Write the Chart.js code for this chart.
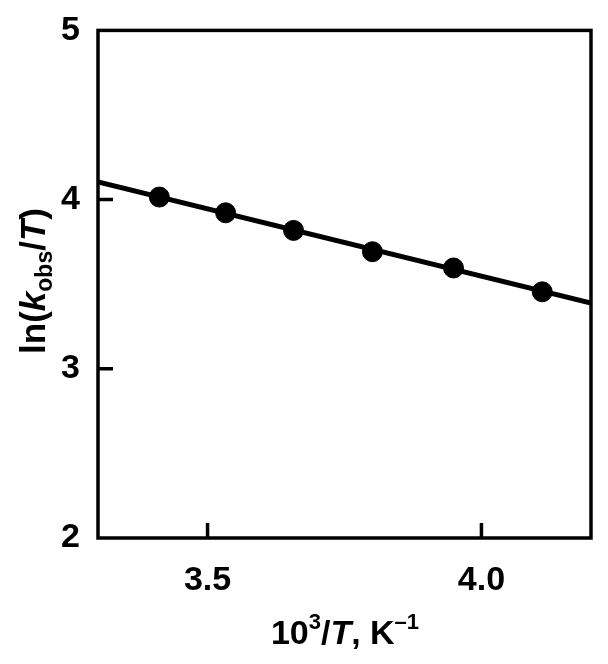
<!DOCTYPE html>
<html>
<head>
<meta charset="utf-8">
<script src="https://cdn.jsdelivr.net/npm/chart.js@4/dist/chart.umd.min.js"></script>
<style>
  html, body { margin: 0; padding: 0; background: #fff; }
  #wrap { width: 608px; height: 664px; }
</style>
</head>
<body>
<div id="wrap"><canvas id="chart"></canvas></div>
<script>
// measured points, 10^3/T vs ln(kobs/T)
const invT = [3.412, 3.533, 3.657, 3.801, 3.949, 4.111];
const lnK = [4.015, 3.922, 3.818, 3.692, 3.596, 3.455];
// fitted line ends
const fitX = [3.3, 4.2];
const fitY = [4.104, 3.388];
const xTicks = [3.5, 4.0];
const yTicks = [2, 3, 4, 5];

const FONT = "'Liberation Sans', Arial, Helvetica, sans-serif";

function drawParts(ctx, parts, cx, cy) {
  // parts: [text, size, italic, dy]
  let total = 0;
  parts.forEach(p => {
    ctx.font = (p[2] ? "italic " : "") + "bold " + p[1] + "px " + FONT;
    p.w = ctx.measureText(p[0]).width;
    total += p.w;
  });
  let x = cx - total / 2;
  parts.forEach(p => {
    ctx.font = (p[2] ? "italic " : "") + "bold " + p[1] + "px " + FONT;
    ctx.fillText(p[0], x, cy + p[3]);
    x += p.w;
  });
}

const frame = {
  id: "frame",
  afterDraw(chart) {
    const ctx = chart.ctx;
    const a = chart.chartArea;
    const xs = chart.scales.x, ys = chart.scales.y;
    ctx.save();
    ctx.strokeStyle = "#000";
    ctx.lineWidth = 3.5;
    ctx.strokeRect(a.left, a.top, a.right - a.left, a.bottom - a.top);
    // inward ticks
    ctx.beginPath();
    xTicks.forEach(v => {
      const px = xs.getPixelForValue(v);
      ctx.moveTo(px, a.bottom);
      ctx.lineTo(px, a.bottom - 15);
    });
    [3, 4].forEach(v => {
      const py = ys.getPixelForValue(v);
      ctx.moveTo(a.left, py);
      ctx.lineTo(a.left + 15, py);
    });
    ctx.stroke();

    ctx.fillStyle = "#000";
    ctx.textBaseline = "alphabetic";
    ctx.textAlign = "left";
    drawParts(ctx, [
      ["10", 34, false, 0],
      ["3", 22, false, -15],
      ["/", 34, false, 0],
      ["T", 34, true, 0],
      [", K", 34, false, 0],
      ["\u20131", 22, false, -15]
    ], 345, 644);

    ctx.translate(45, 281);
    ctx.rotate(-Math.PI / 2);
    drawParts(ctx, [
      ["ln(", 35, false, 0],
      ["k", 35, true, 0],
      ["obs", 23, false, 7],
      ["/", 35, false, 0],
      ["T", 35, true, 0],
      [")", 35, false, 0]
    ], 0, 0);
    ctx.restore();
  }
};

new Chart(document.getElementById("chart"), {
  type: "scatter",
  data: {
    datasets: [
      {
        type: "line",
        data: fitX.map((x, i) => ({ x: x, y: fitY[i] })),
        borderColor: "#000",
        borderWidth: 5,
        pointRadius: 0,
        fill: false
      },
      {
        data: invT.map((x, i) => ({ x: x, y: lnK[i] })),
        backgroundColor: "#000",
        borderColor: "#000",
        pointRadius: 10,
        pointHoverRadius: 10
      }
    ]
  },
  options: {
    responsive: true,
    maintainAspectRatio: false,
    animation: false,
    events: [],
    layout: { padding: { top: 17, right: 17, left: 0, bottom: 0 } },
    plugins: { legend: { display: false }, tooltip: { enabled: false } },
    scales: {
      x: {
        type: "linear",
        min: 3.3,
        max: 4.2,
        afterBuildTicks: s => { s.ticks = xTicks.map(v => ({ value: v })); },
        afterFit: s => { s.height = 126; },
        grid: { display: false },
        border: { display: false },
        ticks: {
          color: "#000",
          padding: 14,
          font: { family: FONT, size: 34, weight: "bold" },
          callback: v => v.toFixed(1)
        }
      },
      y: {
        min: 2,
        max: 5,
        afterBuildTicks: s => { s.ticks = yTicks.map(v => ({ value: v })); },
        afterFit: s => { s.width = 98; },
        grid: { display: false },
        border: { display: false },
        ticks: {
          color: "#000",
          padding: 10,
          font: { family: FONT, size: 34, weight: "bold" },
          callback: v => String(v)
        }
      }
    }
  },
  plugins: [frame]
});
</script>
</body>
</html>
